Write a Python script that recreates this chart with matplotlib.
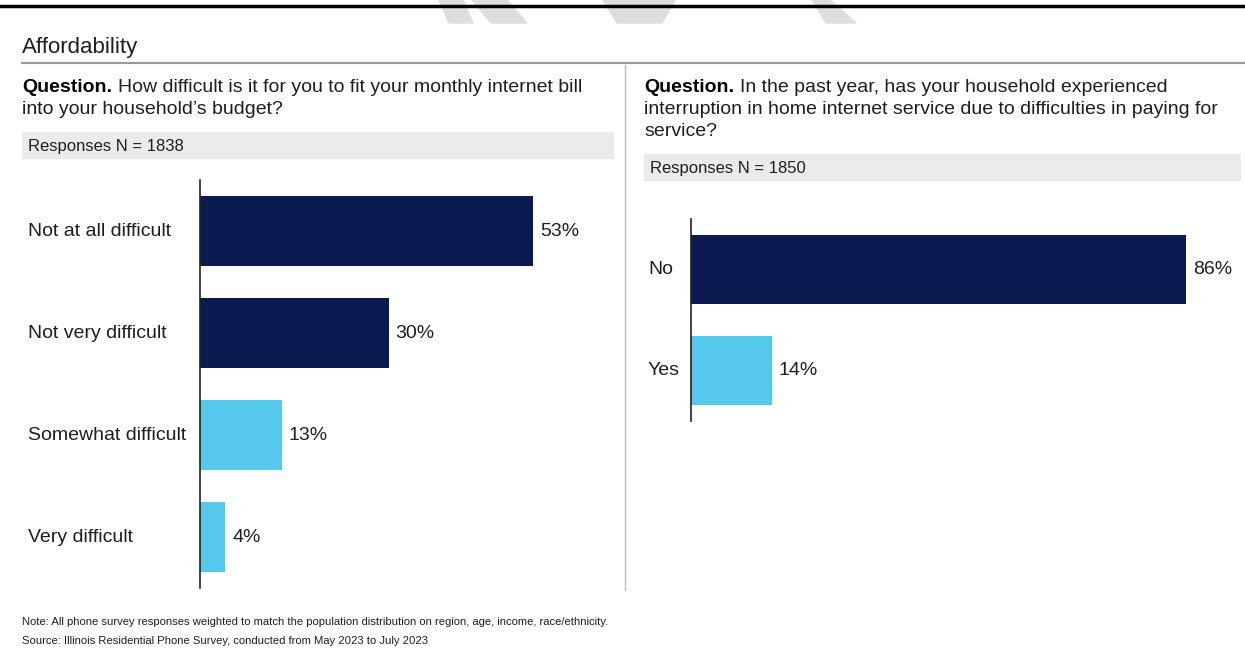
import matplotlib
matplotlib.use("Agg")
import matplotlib.pyplot as plt
from matplotlib.patches import Rectangle, Polygon
from matplotlib.lines import Line2D

plt.rcParams["font.family"] = ["Liberation Sans", "DejaVu Sans"]

W, H = 1245, 656

# Survey data
budget_labels = ["Not at all difficult", "Not very difficult", "Somewhat difficult", "Very difficult"]
budget_values = [53, 30, 13, 4]
budget_n = 1838

interrupt_labels = ["No", "Yes"]
interrupt_values = [86, 14]
interrupt_n = 1850

NAVY = "#0C1A52"
LIGHT = "#56C8EC"
TEXT = "#1E1E1E"
budget_colors = [NAVY, NAVY, LIGHT, LIGHT]
interrupt_colors = [NAVY, LIGHT]

fig = plt.figure(figsize=(W / 100, H / 100), dpi=100)


def px(x, y):
    # pixel position (top-left origin) -> figure fraction
    return x / W, 1 - y / H


def axes_box(x0, y0, x1, y1):
    return [x0 / W, 1 - y1 / H, (x1 - x0) / W, (y1 - y0) / H]


# faint grey shapes along the top edge
shapes = [
    [(439, 0), (463, 0), (473, 23), (449, 23)],
    [(472, 0), (507, 0), (527, 23), (491, 23)],
    [(603, 0), (675, 0), (662, 23), (617, 23)],
    [(812, 0), (830, 0), (856, 23), (826, 23)],
]
for s in shapes:
    fig.patches.append(Polygon([px(x, y) for x, y in s], closed=True,
                               transform=fig.transFigure, color="#DEDEDE", zorder=0))

# top black rule and grey section rule
fig.lines.append(Line2D([0, 1], [px(0, 6)[1]] * 2, transform=fig.transFigure, color="black", lw=2.5))
fig.lines.append(Line2D([22 / W, 1], [px(0, 63)[1]] * 2, transform=fig.transFigure, color="#9A9A9A", lw=1.5))
# vertical divider between the two panels
fig.lines.append(Line2D([625 / W] * 2, [px(0, 65)[1], px(0, 590)[1]], transform=fig.transFigure,
                        color="#BBBBBB", lw=1.0))

fig.text(*px(22, 47), "Affordability", fontsize=16, va="center", ha="left", color=TEXT)

renderer = fig.canvas.get_renderer()


def question(x, y, lines, size=14):
    t = fig.text(*px(x, y), "Question.", fontsize=size, fontweight="bold", va="center", ha="left",
                 color="black")
    bb = t.get_window_extent(renderer)
    fig.text((bb.x1 + 6) / W, px(x, y)[1], lines[0], fontsize=size, va="center", ha="left", color=TEXT)
    for i, ln in enumerate(lines[1:], start=1):
        fig.text(*px(x, y + 21.5 * i), ln, fontsize=size, va="center", ha="left", color=TEXT)


question(22, 88, ["How difficult is it for you to fit your monthly internet bill",
                  "into your household\u2019s budget?"])
question(644, 88, ["In the past year, has your household experienced",
                   "interruption in home internet service due to difficulties in paying for",
                   "service?"])


def n_box(x0, y0, x1, y1, n):
    fig.patches.append(Rectangle(px(x0, y1), (x1 - x0) / W, (y1 - y0) / H,
                                 transform=fig.transFigure, color="#EBEBEB", zorder=0))
    fig.text(*px(x0 + 6, (y0 + y1) / 2 + 1), f"Responses N = {n}", fontsize=12, va="center", ha="left",
             color=TEXT)


n_box(22, 132, 613, 158, budget_n)
n_box(644, 154, 1240, 180, interrupt_n)


def bar_panel(box, labels, values, colors, xmax, label_x):
    ax = fig.add_axes(axes_box(*box))
    y = range(len(values))
    ax.barh(y, values, height=0.69, color=colors)
    ax.set_xlim(0, xmax)
    ax.set_ylim(len(values) - 0.5, -0.5)
    for s in ["top", "right", "bottom"]:
        ax.spines[s].set_visible(False)
    ax.spines["left"].set_color("#222222")
    ax.spines["left"].set_linewidth(1.2)
    ax.set_xticks([])
    ax.set_yticks([])
    for yi, v in zip(y, values):
        ax.annotate(f"{v}%", (v, yi), xytext=(5, 0), textcoords="offset points",
                    va="center", ha="left", fontsize=14, color=TEXT)
    for yi, lab in zip(y, labels):
        disp = ax.transData.transform((0, yi))
        fig.text(label_x / W, disp[1] / H, lab, fontsize=14, va="center", ha="left", color=TEXT)
    return ax


bar_panel((200, 180, 577, 588), budget_labels, budget_values, budget_colors, 60, 28)
bar_panel((691, 219, 1238, 421), interrupt_labels, interrupt_values, interrupt_colors, 95, 648)

fig.text(*px(22, 622), "Note: All phone survey responses weighted to match the population distribution "
         "on region, age, income, race/ethnicity.", fontsize=8.1, va="center", ha="left", color=TEXT)
fig.text(*px(22, 641), "Source: Illinois Residential Phone Survey, conducted from May 2023 to July 2023",
         fontsize=8.1, va="center", ha="left", color=TEXT)

fig.savefig("out.png", dpi=100)
